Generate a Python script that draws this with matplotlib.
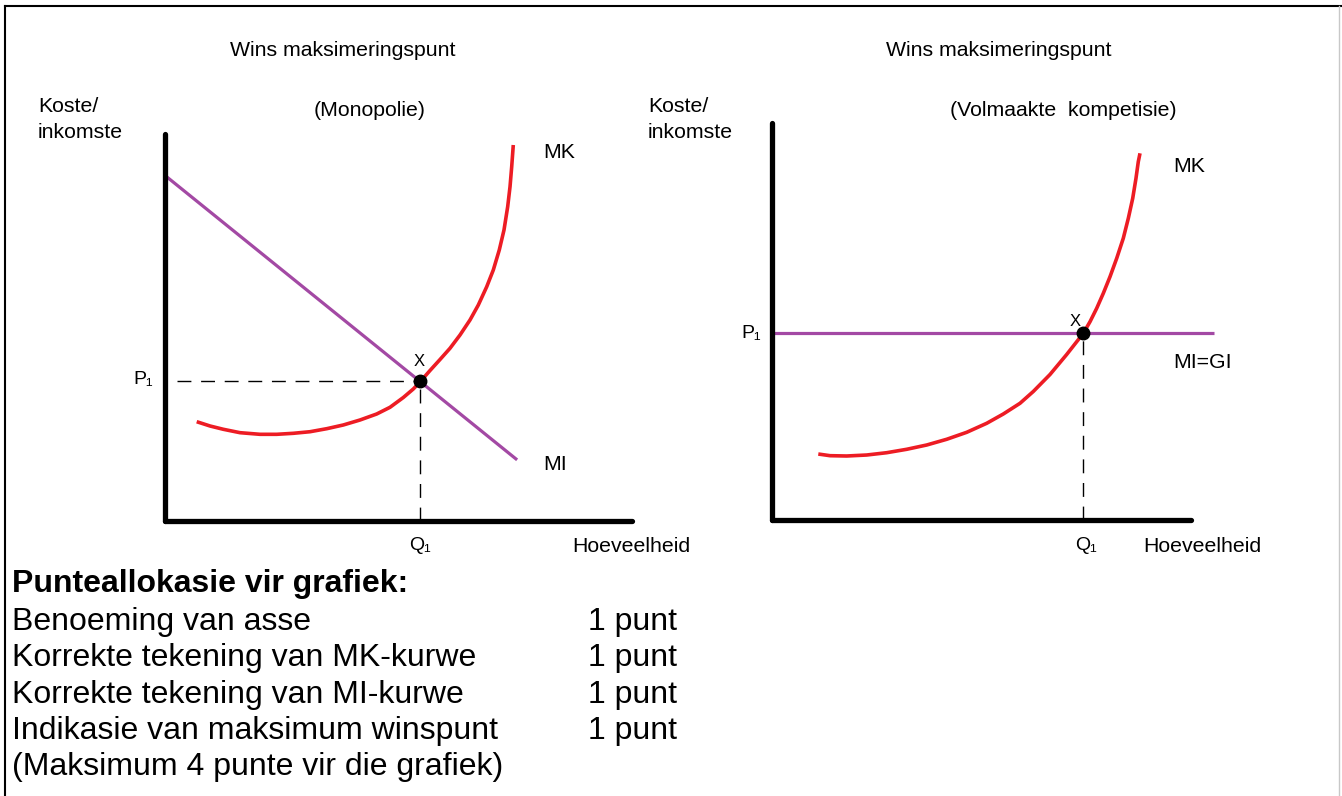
import matplotlib
matplotlib.use("Agg")
import matplotlib.pyplot as plt

plt.rcParams['font.family'] = ['Liberation Sans', 'DejaVu Sans']

W, H = 1342, 796

# --- curve data (panel units, 0..10 on both axes) ---
# Monopolie
mk_mono_x = [0.679, 0.964, 1.248, 1.606, 2.034, 2.392, 2.747, 3.105, 3.463, 3.818,
             4.176, 4.533, 4.818, 5.103, 5.317, 5.460, 5.675, 5.889, 6.103, 6.317,
             6.531, 6.709, 6.889, 7.030, 7.158, 7.259, 7.338, 7.388, 7.424, 7.458]
mk_mono_y = [2.566, 2.455, 2.370, 2.282, 2.240, 2.240, 2.266, 2.307, 2.385, 2.481,
             2.610, 2.765, 2.938, 3.191, 3.411, 3.592, 3.889, 4.173, 4.463, 4.806,
             5.194, 5.581, 6.054, 6.486, 7.003, 7.519, 8.121, 8.638, 9.155, 9.716]
mi_mono_x = [0.04, 7.54]
mi_mono_y = [8.89, 1.58]
eq_mono = (5.46, 3.61)

# Volmaakte kompetisie
mk_comp_x = [1.105, 1.384, 1.783, 2.260, 2.737, 3.215, 3.692, 4.169, 4.647, 5.124,
             5.520, 5.919, 6.236, 6.635, 7.033, 7.430, 7.590, 7.749, 7.907, 8.067,
             8.227, 8.384, 8.504, 8.609, 8.687, 8.742, 8.783]
mk_comp_y = [1.662, 1.620, 1.612, 1.637, 1.695, 1.781, 1.889, 2.033, 2.209, 2.436,
             2.670, 2.940, 3.237, 3.665, 4.169, 4.703, 4.995, 5.332, 5.710, 6.128,
             6.592, 7.096, 7.599, 8.103, 8.607, 9.025, 9.237]
mi_comp_x = [0.05, 10.55]
mi_comp_y = [4.71, 4.71]
eq_comp = (7.43, 4.71)

score_items = ["Benoeming van asse", "Korrekte tekening van MK-kurwe",
               "Korrekte tekening van MI-kurwe", "Indikasie van maksimum winspunt"]
score_points = ["1 punt", "1 punt", "1 punt", "1 punt"]

RED = "#ed1c24"
PURPLE = "#a349a4"
SMALL = 15.3
BIG = 23


def panel_axes(fig, x0, x1, y_bottom, y_top):
    # pixel box -> figure fraction
    ax = fig.add_axes([x0 / W, (H - y_bottom) / H, (x1 - x0) / W, (y_bottom - y_top) / H])
    ax.set_xlim(0, 10)
    ax.set_ylim(0, 10)
    ax.set_xticks([])
    ax.set_yticks([])
    ax.patch.set_alpha(0)
    for s in ("top", "right"):
        ax.spines[s].set_visible(False)
    for s in ("left", "bottom"):
        ax.spines[s].set_linewidth(3.8)
        ax.spines[s].set_capstyle("round")
    return ax


fig = plt.figure(figsize=(W / 100, H / 100), dpi=100)

# background axes in pixel coordinates, used for the text and border
bg = fig.add_axes([0, 0, 1, 1])
bg.set_xlim(0, W)
bg.set_ylim(H, 0)
bg.axis("off")
bg.plot([5, 5], [6, H + 5], color="black", lw=1.5)
bg.plot([5, W], [6, 6], color="black", lw=1.5)
bg.plot([1339, 1339], [6, H + 5], color="#c8c8c8", lw=1)

curve_kw = dict(solid_capstyle="butt", solid_joinstyle="round")

# ---- left panel: Monopolie ----
ax1 = panel_axes(fig, 165, 632, 521, 134)
ax1.plot(mi_mono_x, mi_mono_y, color=PURPLE, lw=2.3, **curve_kw)
ax1.plot(mk_mono_x, mk_mono_y, color=RED, lw=2.6, **curve_kw)
ax1.plot([0.26, eq_mono[0]], [eq_mono[1], eq_mono[1]], color="black", lw=1, dashes=(10, 7))
ax1.plot([eq_mono[0], eq_mono[0]], [0, eq_mono[1]], color="black", lw=1, dashes=(10, 7))
ax1.plot(*eq_mono, "o", color="black", ms=9, zorder=5)

# ---- right panel: Volmaakte kompetisie ----
ax2 = panel_axes(fig, 772, 1191, 520, 123)
ax2.plot(mi_comp_x, mi_comp_y, color=PURPLE, lw=2.3, clip_on=False, **curve_kw)
ax2.plot(mk_comp_x, mk_comp_y, color=RED, lw=2.6, **curve_kw)
ax2.plot([eq_comp[0], eq_comp[0]], [0, eq_comp[1]], color="black", lw=1, dashes=(10, 7))
ax2.plot(*eq_comp, "o", color="black", ms=9, zorder=5)

# ---- labels (pixel coordinates) ----
def t(x, y, s, size=SMALL, ha="left", **kw):
    bg.text(x, y, s, fontsize=size, ha=ha, va="center", **kw)

t(343, 51, "Wins maksimeringspunt", ha="center")
t(999, 51, "Wins maksimeringspunt", ha="center")
t(370, 110, "(Monopolie)", ha="center")
t(1063, 110, "(Volmaakte  kompetisie)", ha="center")
for kx in (38, 648):
    t(kx, 106, "Koste/")
    t(kx, 132, "inkomste")

t(543, 153, "MK")
t(543, 464, "MI")
t(572, 546, "Hoeveelheid")
t(133, 380, "P\u2081", size=14)
t(420, 545, "Q\u2081", size=14, ha="center")
t(419, 361, "X", size=12, ha="center")

t(1173, 167, "MK")
t(1173, 363, "MI=GI")
t(1143, 546, "Hoeveelheid")
t(741, 333, "P\u2081", size=14)
t(1086, 545, "Q\u2081", size=14, ha="center")
t(1075, 322, "X", size=12, ha="center")

# ---- point allocation text ----
t(12, 584, "Punteallokasie vir grafiek:", size=BIG, fontweight="bold")
for i, (item, pts) in enumerate(zip(score_items, score_points)):
    y = 622 + i * 36.3
    t(12, y, item, size=BIG)
    t(588, y, pts, size=BIG)
t(12, 767, "(Maksimum 4 punte vir die grafiek)", size=BIG)

fig.savefig("out.png", dpi=100)
